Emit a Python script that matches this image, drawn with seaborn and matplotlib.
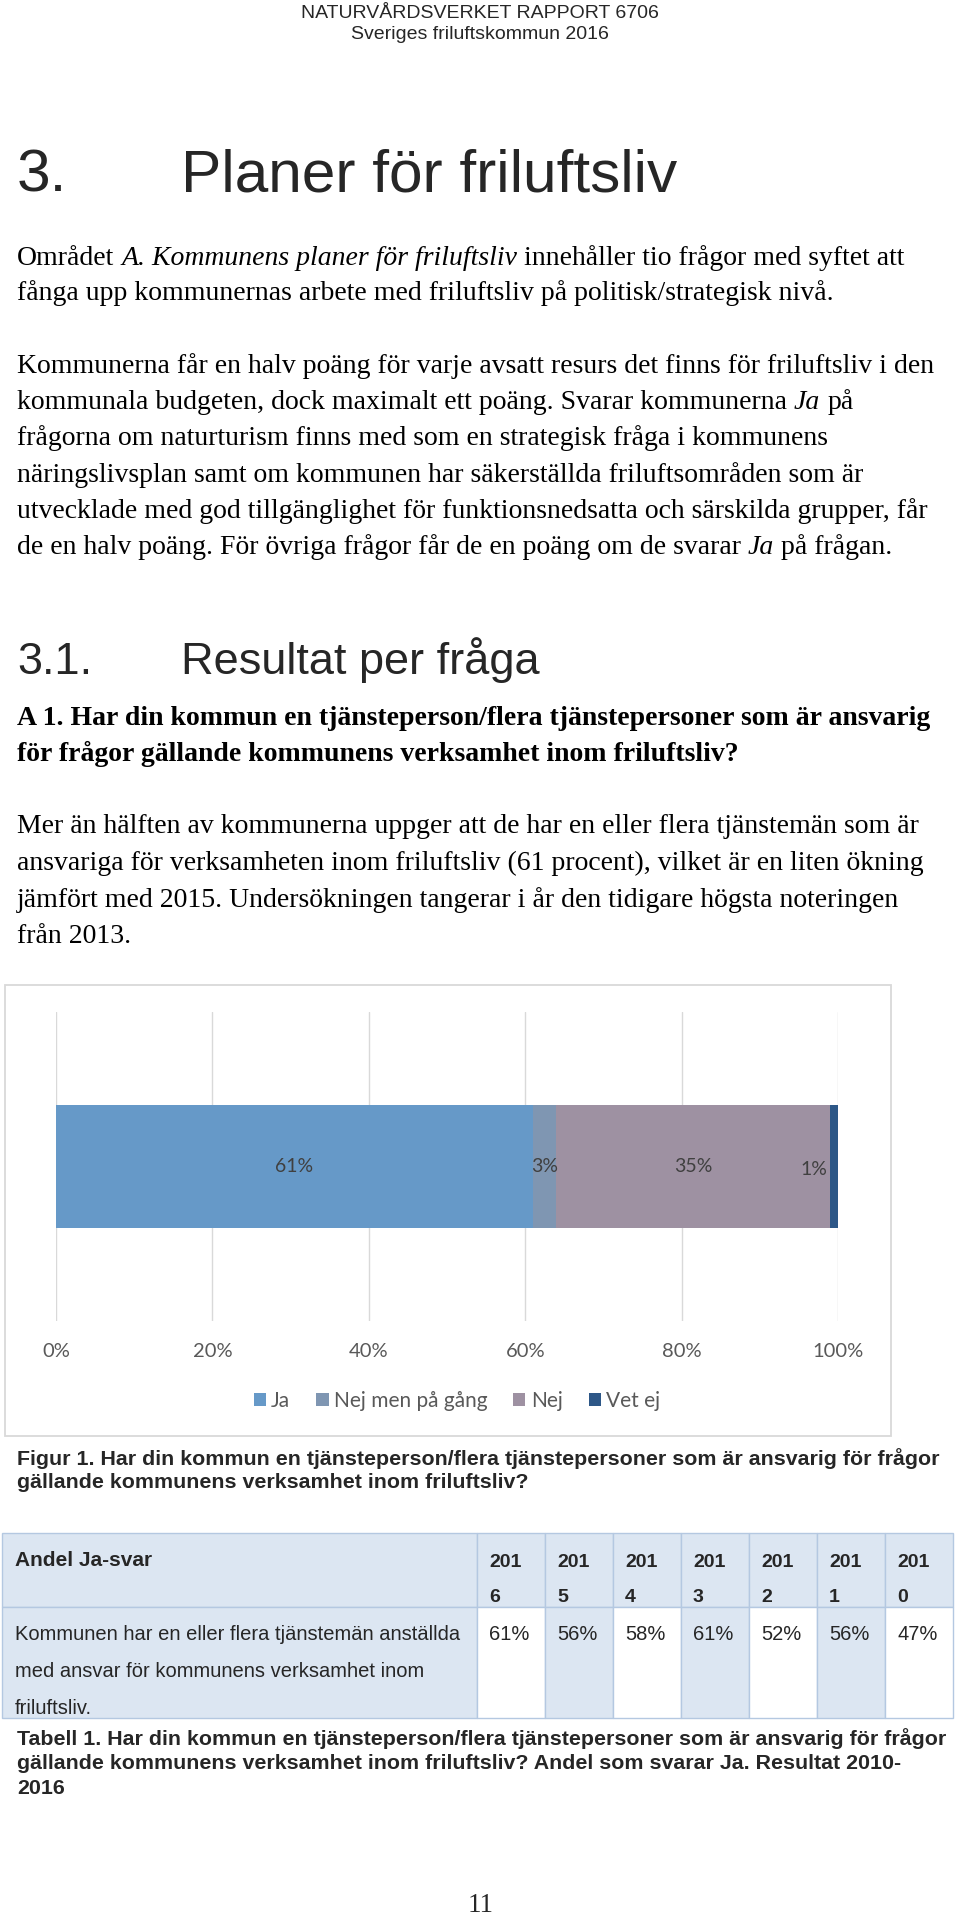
import numpy as np
import matplotlib
matplotlib.use("Agg")
import matplotlib.pyplot as plt
from matplotlib.patches import Rectangle, Patch
import seaborn as sns

# chart data (Figur 1)
answers = ["Ja", "Nej men på gång", "Nej", "Vet ej"]
shares = [61, 3, 35, 1]  # procent
bar_colors = ["#6699C8", "#7F96B2", "#9E91A2", "#2D5787"]
x_ticks = [0, 20, 40, 60, 80, 100]

# table data (Tabell 1)
years = ["2016", "2015", "2014", "2013", "2012", "2011", "2010"]
ja_share = ["61%", "56%", "58%", "61%", "52%", "56%", "47%"]

SERIF = "Liberation Serif"
SANS = "Liberation Sans"
CHART = "Lato"
N, I = "normal", "italic"

sns.set_theme(style="white")
plt.rcParams["font.family"] = [SANS, "DejaVu Sans"]

fig = plt.figure(figsize=(9.6, 19.18), dpi=100)
fig.patch.set_facecolor("white")

# whole page in pixel coordinates
page = fig.add_axes([0, 0, 1, 1])
page.set_xlim(0, 960)
page.set_ylim(1918, 0)
page.axis("off")
renderer = fig.canvas.get_renderer()


def line(x, y, parts, size, family=SERIF, weight="normal"):
    # parts: list of (text, style), one space between parts
    a = page.text(0, 0, "n n", fontsize=size, family=family, weight=weight)
    b = page.text(0, 0, "nn", fontsize=size, family=family, weight=weight)
    sp = a.get_window_extent(renderer).width - b.get_window_extent(renderer).width
    a.remove()
    b.remove()
    for s, st in parts:
        t = page.text(x, y, s, fontsize=size, family=family, style=st,
                      weight=weight, va="baseline", ha="left", color="black")
        x += t.get_window_extent(renderer).width + sp


# header
page.text(480, 18, "NATURVÅRDSVERKET RAPPORT 6706", ha="center", va="baseline",
          fontsize=14, family=SANS)
page.text(480, 39, "Sveriges friluftskommun 2016", ha="center", va="baseline",
          fontsize=14, family=SANS)

# heading 3
page.text(17, 192, "3.", fontsize=43.5, family=SANS, va="baseline")
page.text(181, 192, "Planer för friluftsliv", fontsize=43.5, family=SANS, va="baseline")

BODY = 20
para1 = [
    [("Området", N), ("A. Kommunens planer för friluftsliv", I),
     ("innehåller tio frågor med syftet att", N)],
    [("fånga upp kommunernas arbete med friluftsliv på politisk/strategisk nivå.", N)],
]
para2 = [
    [("Kommunerna får en halv poäng för varje avsatt resurs det finns för friluftsliv i den", N)],
    [("kommunala budgeten, dock maximalt ett poäng. Svarar kommunerna", N), ("Ja", I), ("på", N)],
    [("frågorna om naturturism finns med som en strategisk fråga i kommunens", N)],
    [("näringslivsplan samt om kommunen har säkerställda friluftsområden som är", N)],
    [("utvecklade med god tillgänglighet för funktionsnedsatta och särskilda grupper, får", N)],
    [("de en halv poäng. För övriga frågor får de en poäng om de svarar", N), ("Ja", I),
     ("på frågan.", N)],
]
for parts, y in zip(para1, [265, 300]):
    line(17, y, parts, BODY)
for parts, y in zip(para2, [373, 409, 445, 482, 518, 554]):
    line(17, y, parts, BODY)

# heading 3.1
page.text(17, 674, "3.1.", fontsize=32.5, family=SANS, va="baseline")
page.text(181, 674, "Resultat per fråga", fontsize=32.5, family=SANS, va="baseline")

question = ["A 1. Har din kommun en tjänsteperson/flera tjänstepersoner som är ansvarig",
            "för frågor gällande kommunens verksamhet inom friluftsliv?"]
for s, y in zip(question, [725, 761]):
    line(17, y, [(s, N)], BODY, weight="bold")

para3 = ["Mer än hälften av kommunerna uppger att de har en eller flera tjänstemän som är",
         "ansvariga för verksamheten inom friluftsliv (61 procent), vilket är en liten ökning",
         "jämfört med 2015. Undersökningen tangerar i år den tidigare högsta noteringen",
         "från 2013."]
for s, y in zip(para3, [833, 870, 907, 943]):
    line(17, y, [(s, N)], BODY)

# chart frame
page.add_patch(Rectangle((5, 985), 886, 451, fill=False, edgecolor="#D9D9D9", lw=1.3))

# chart
ax = fig.add_axes([56 / 960, 1 - 1321 / 1918, 782 / 960, 309 / 1918])
ax.patch.set_alpha(0)
ends = np.cumsum(shares)
starts = ends - np.array(shares)
for i in range(len(answers) - 1, -1, -1):
    sns.barplot(x=[ends[i]], y=["A1"], color=bar_colors[i], saturation=1,
                width=0.397, linewidth=0, orient="h", ax=ax)
ax.set_xlim(0, 100)
ax.set_ylim(0.5, -0.5)
ax.set_xticks(x_ticks)
ax.set_xticklabels([f"{t}%" for t in x_ticks], family=CHART, fontsize=14.5, color="#595959")
ax.tick_params(axis="x", length=0, pad=15.5)
ax.set_yticks([])
ax.set_xlabel("")
ax.set_ylabel("")
ax.xaxis.grid(True, color="#D9D9D9", lw=1)
ax.set_axisbelow(True)
for s in ax.spines.values():
    s.set_visible(False)

for i, v in enumerate(shares):
    if i == len(shares) - 1:
        ax.text(starts[i] - 0.3, 0.01, f"{v}%", ha="right", va="center",
                family=CHART, fontsize=14, color="#404040")
    else:
        ax.text(starts[i] + v / 2, 0, f"{v}%", ha="center", va="center",
                family=CHART, fontsize=14, color="#404040")

handles = [Patch(facecolor=c, edgecolor="none") for c in bar_colors]
fig.legend(handles, answers, loc="center", bbox_to_anchor=(457 / 960, 1 - 1401 / 1918),
           ncol=4, frameon=False, prop={"family": CHART, "size": 15},
           handlelength=0.58, handleheight=0.58, handletextpad=0.25,
           columnspacing=1.25, labelcolor="#595959")

# figure caption
cap_fig = ["Figur 1. Har din kommun en tjänsteperson/flera tjänstepersoner som är ansvarig för frågor",
           "gällande kommunens verksamhet inom friluftsliv?"]
for s, y in zip(cap_fig, [1465, 1488]):
    page.text(17, y, s, fontsize=15.4, weight="bold", family=SANS, va="baseline")

# table
tab_top, head_bot, tab_bot = 1533, 1607, 1718
c0_l, c0_r = 2, 477
cw = 68
blue = "#DCE6F2"
edge = "#B4C8E1"
page.add_patch(Rectangle((c0_l, tab_top), c0_r - c0_l, head_bot - tab_top, fc=blue, ec=edge, lw=1))
page.add_patch(Rectangle((c0_l, head_bot), c0_r - c0_l, tab_bot - head_bot, fc=blue, ec=edge, lw=1))
page.text(15, 1566, "Andel Ja-svar", fontsize=15, weight="bold", family=SANS, va="baseline")
row_text = ["Kommunen har en eller flera tjänstemän anställda",
            "med ansvar för kommunens verksamhet inom",
            "friluftsliv."]
for s, y in zip(row_text, [1640, 1677, 1714]):
    page.text(15, y, s, fontsize=14.5, family=SANS, va="baseline")
for j, (yr, v) in enumerate(zip(years, ja_share)):
    left = c0_r + j * cw
    page.add_patch(Rectangle((left, tab_top), cw, head_bot - tab_top, fc=blue, ec=edge, lw=1))
    page.add_patch(Rectangle((left, head_bot), cw, tab_bot - head_bot,
                             fc="white" if j % 2 == 0 else blue, ec=edge, lw=1))
    page.text(left + 12, 1567, yr[:3], fontsize=14, weight="bold", family=SANS, va="baseline")
    page.text(left + 12, 1602, yr[3:], fontsize=14, weight="bold", family=SANS, va="baseline")
    page.text(left + 12, 1640, v, fontsize=14.5, family=SANS, va="baseline")

cap_tab = ["Tabell 1. Har din kommun en tjänsteperson/flera tjänstepersoner som är ansvarig för frågor",
           "gällande kommunens verksamhet inom friluftsliv? Andel som svarar Ja. Resultat 2010-",
           "2016"]
for s, y in zip(cap_tab, [1745, 1769, 1794]):
    page.text(17, y, s, fontsize=15.4, weight="bold", family=SANS, va="baseline")

page.text(481, 1912, "11", ha="center", va="baseline", fontsize=19.5, family=SERIF)

fig.savefig("out.png", dpi=100, facecolor="white")
